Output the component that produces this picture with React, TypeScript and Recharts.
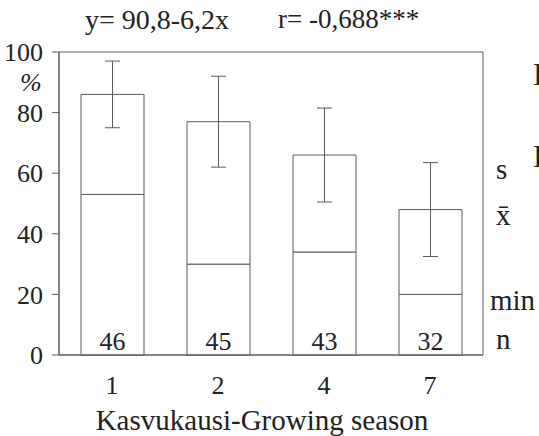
import {
  ComposedChart,
  Bar,
  ErrorBar,
  XAxis,
  YAxis,
  ReferenceLine,
  ReferenceArea,
  LabelList,
} from "recharts";

// growing season (years) on the x axis
const seasons = ["1", "2", "4", "7"];
const means = [86, 77, 66, 48];
const mins = [53, 30, 34, 20];
const sds = [11, 15, 15.5, 15.5];
const counts = [46, 45, 43, 32];

const yTicks = [0, 20, 40, 60, 80, 100];
// labels on the right side of the frame
const keyTicks = [60, 45, 17, 4];
const keyLabels = ["s", "x\u0304", "min", "n"];

const FONT = "'Liberation Serif', 'DejaVu Serif', serif";
const INK = "#222";
const LINE = "#5a5a5a";

const data = seasons.map((s, i) => ({
  season: s,
  min: mins[i],
  rest: means[i] - mins[i],
  s: sds[i],
  n: counts[i],
}));

const textStyle = { fontSize: 26, fill: INK, fontFamily: FONT };

export default function App() {
  return (
    <div
      style={{
        position: "absolute",
        left: 0,
        top: 0,
        width: 539,
        height: 436,
        overflow: "hidden",
        background: "#fff",
        fontFamily: FONT,
        color: INK,
      }}
    >
      <ComposedChart
        width={539}
        height={436}
        data={data}
        margin={{ top: 52, right: 56, bottom: 0, left: 0 }}
        style={{ fontFamily: FONT }}
      >
        <XAxis
          dataKey="season"
          height={81}
          stroke={LINE}
          tickLine={false}
          tickMargin={15}
          tick={textStyle}
          label={{
            value: "Kasvukausi-Growing season",
            position: "insideBottom",
            offset: 6,
            dx: -9,
            style: { fontSize: 29, fill: INK, fontFamily: FONT },
          }}
        />
        <YAxis
          width={59}
          domain={[0, 100]}
          ticks={yTicks}
          interval={0}
          stroke={LINE}
          tickSize={7}
          tickMargin={9}
          tick={textStyle}
        />
        <ReferenceArea y1={0} y2={100} fill="none" stroke={LINE} strokeWidth={1} />
        {keyTicks.map((v, i) => (
          <ReferenceLine
            key={keyLabels[i]}
            y={v}
            stroke="none"
            label={{
              value: keyLabels[i],
              position: "right",
              offset: keyLabels[i] === "min" ? 7 : 13,
              dy: -4,
              fontSize: 29,
              fill: INK,
              fontFamily: FONT,
            }}
          />
        ))}
        <Bar
          dataKey="min"
          stackId="a"
          fill="#fff"
          stroke={LINE}
          barSize={63}
          isAnimationActive={false}
        >
          <LabelList
            dataKey="n"
            position="insideBottom"
            offset={5}
            style={{ fontSize: 26, fill: INK, fontFamily: FONT }}
          />
        </Bar>
        <Bar
          dataKey="rest"
          stackId="a"
          fill="#fff"
          stroke={LINE}
          barSize={63}
          isAnimationActive={false}
        >
          <ErrorBar
            dataKey="s"
            width={7.5}
            stroke={LINE}
            strokeWidth={1}
            direction="y"
          />
        </Bar>
      </ComposedChart>

      <div style={{ position: "absolute", left: 85, top: 6, fontSize: 28, lineHeight: 1, whiteSpace: "nowrap" }}>
        y= 90,8-6,2x
      </div>
      <div style={{ position: "absolute", left: 278, top: 6, fontSize: 27, lineHeight: 1, whiteSpace: "nowrap" }}>
        r= -0,688***
      </div>
      <div style={{ position: "absolute", left: 20, top: 70, fontSize: 26, lineHeight: 1, fontStyle: "italic" }}>
        %
      </div>
      <div style={{ position: "absolute", left: 533, top: 58, fontSize: 32, lineHeight: 1 }}>E</div>
      <div style={{ position: "absolute", left: 533, top: 140, fontSize: 32, lineHeight: 1 }}>E</div>
    </div>
  );
}
